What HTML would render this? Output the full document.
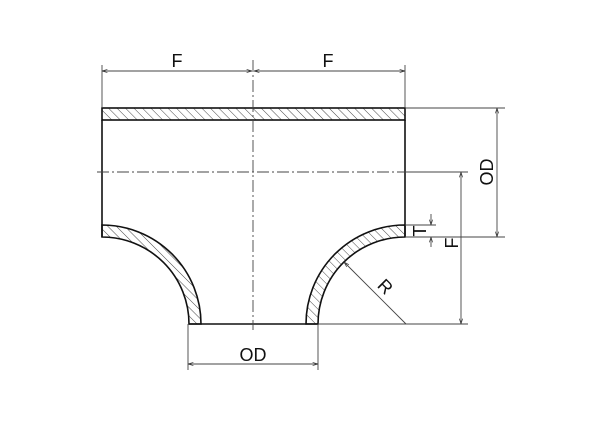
<!DOCTYPE html>
<html><head><style>body{margin:0;background:#fff}svg{display:block}</style></head><body>
<svg width="600" height="423" viewBox="0 0 600 423" xmlns="http://www.w3.org/2000/svg" font-family="Liberation Sans, sans-serif">
<defs>
<pattern id="h" width="6" height="6" patternUnits="userSpaceOnUse" patternTransform="rotate(-45)">
<line x1="0" y1="0" x2="0" y2="6" stroke="#333" stroke-width="0.9"/>
</pattern>
<marker id="a" viewBox="0 0 10 10" refX="10" refY="5" markerWidth="6" markerHeight="6" orient="auto-start-reverse"><path d="M0,2 L10,5 L0,8" fill="none" stroke="#333" stroke-width="1.2"/></marker>
</defs>
<g stroke="#111" stroke-width="1.6" fill="none">
<rect x="102" y="108" width="303" height="12" fill="url(#h)"/>
<line x1="102" y1="120" x2="102" y2="237"/>
<line x1="405" y1="120" x2="405" y2="237"/>
<path d="M102,225 A99,99 0 0 1 201,324 L189,324 A87,87 0 0 0 102,237 Z" fill="url(#h)"/>
<path d="M405,225 A99,99 0 0 0 306,324 L318,324 A87,87 0 0 1 405,237 Z" fill="url(#h)"/>
<line x1="189" y1="324" x2="318" y2="324"/>
</g>
<g stroke="#444" stroke-width="0.9" fill="none">
<line x1="253" y1="60" x2="253" y2="330" stroke-dasharray="12,3,2,3"/>
<line x1="97" y1="172" x2="405" y2="172" stroke-dasharray="12,3,2,3"/>
<line x1="405" y1="172" x2="468" y2="172"/>
<line x1="102" y1="65" x2="102" y2="108"/>
<line x1="405" y1="65" x2="405" y2="108"/>
<line x1="102" y1="71" x2="252" y2="71" marker-start="url(#a)" marker-end="url(#a)"/>
<line x1="254" y1="71" x2="405" y2="71" marker-start="url(#a)" marker-end="url(#a)"/>
<line x1="405" y1="108" x2="505" y2="108"/>
<line x1="405" y1="237" x2="505" y2="237"/>
<line x1="497" y1="108" x2="497" y2="237" marker-start="url(#a)" marker-end="url(#a)"/>
<line x1="318" y1="324" x2="468" y2="324"/>
<line x1="461" y1="172" x2="461" y2="324" marker-start="url(#a)" marker-end="url(#a)"/>
<line x1="405" y1="225" x2="436" y2="225"/>
<line x1="431" y1="214" x2="431" y2="225" marker-end="url(#a)"/>
<line x1="431" y1="247" x2="431" y2="237" marker-end="url(#a)"/>
<line x1="188" y1="324" x2="188" y2="370"/>
<line x1="318" y1="324" x2="318" y2="370"/>
<line x1="188" y1="364" x2="318" y2="364" marker-start="url(#a)" marker-end="url(#a)"/>
<line x1="406" y1="324" x2="344" y2="262" marker-end="url(#a)"/>
</g>
<g fill="#111" font-size="18">
<text x="177" y="67" text-anchor="middle">F</text>
<text x="328" y="67" text-anchor="middle">F</text>
<text x="253" y="361" text-anchor="middle">OD</text>
<text transform="translate(493,172) rotate(-90)" text-anchor="middle">OD</text>
<text transform="translate(458,243) rotate(-90)" text-anchor="middle">F</text>
<text transform="translate(426,231) rotate(-90)" text-anchor="middle">T</text>
<text transform="translate(381,291) rotate(45)" text-anchor="middle">R</text>
</g>
</svg>
</body></html>
